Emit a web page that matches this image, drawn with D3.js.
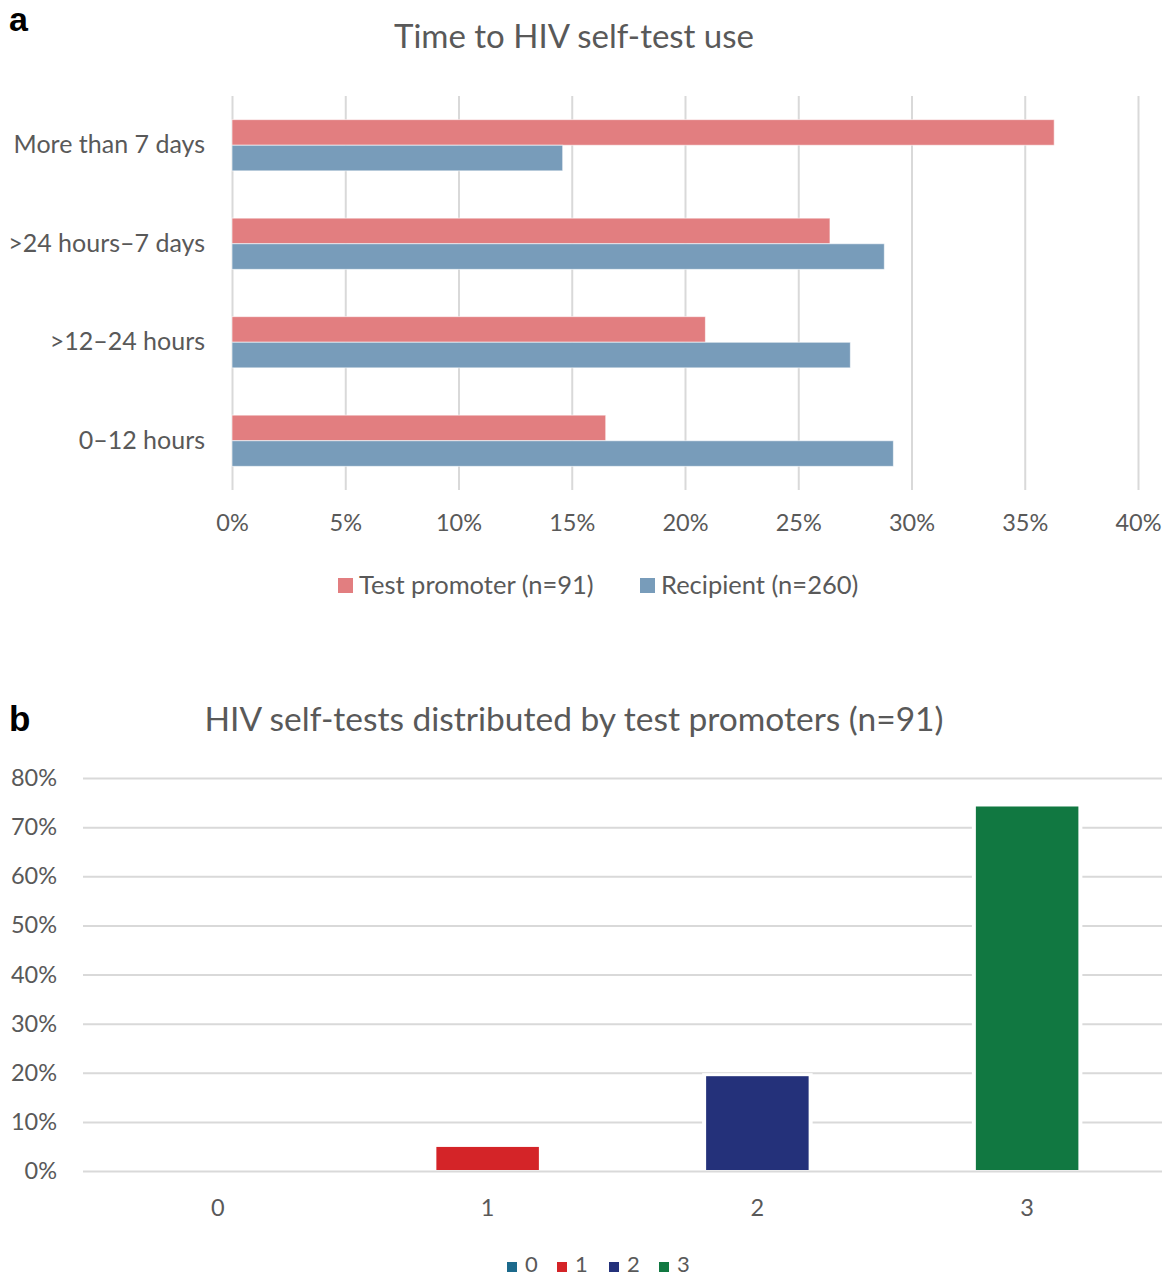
<!DOCTYPE html>
<html>
<head>
<meta charset="utf-8">
<script src="https://cdn.jsdelivr.net/npm/d3@7"></script>
<style>
  html, body { margin: 0; padding: 0; background: #fff; }
  svg { display: block; }
  text { font-family: Lato, "Open Sans", sans-serif; fill: #595959; }
</style>
</head>
<body>
<svg id="chart" width="1164" height="1277"></svg>
<script>
// ---- Panel a data ----
const timeCategories = ["More than 7 days", ">24 hours\u20137 days", ">12\u201324 hours", "0\u201312 hours"];
const timeSeries = ["Test promoter (n=91)", "Recipient (n=260)"];
const promoterValues = [0.363, 0.264, 0.209, 0.165];
const recipientValues = [0.146, 0.288, 0.273, 0.292];
const timeTicks = [0, 0.05, 0.10, 0.15, 0.20, 0.25, 0.30, 0.35, 0.40];
const timeColors = ["#E27E80", "#789CBA"];

// ---- Panel b data ----
const distCategories = ["0", "1", "2", "3"];
const distValues = [0, 0.049, 0.193, 0.742];
const distTicks = [0, 0.1, 0.2, 0.3, 0.4, 0.5, 0.6, 0.7, 0.8];
const distColors = ["#1C6A8C", "#D42428", "#24317A", "#117841"];

const svg = d3.select("#chart");
const pct = d3.format(".0%");

// ================= Panel a =================
const gA = svg.append("g");
gA.append("text").text("a").attr("x", 9).attr("y", 31)
  .style("font-family", "Liberation Sans, Arial, sans-serif")
  .style("font-weight", "bold").style("font-size", "34px").style("fill", "#000");
gA.append("text").text("Time to HIV self-test use")
  .attr("x", 574).attr("y", 48).attr("text-anchor", "middle")
  .style("font-size", "33px");

const xA = d3.scaleLinear().domain([0, 0.4]).range([232, 1138]);
const yA = d3.scaleBand().domain(timeCategories).range([96, 490]).paddingInner(0.48).paddingOuter(0.24);
const ySub = d3.scaleBand().domain(timeSeries).range([0, yA.bandwidth()]);

// gridlines via axis
const gridA = gA.append("g").attr("transform", "translate(0,490)")
  .call(d3.axisBottom(xA).tickValues(timeTicks).tickSize(-(490 - 96)).tickFormat(pct).tickPadding(24));
gridA.select(".domain").remove();
gridA.selectAll(".tick line").attr("stroke", "#d9d9d9").attr("stroke-width", 2);
gridA.selectAll(".tick text").style("font-size", "23.5px").style("fill", "#595959")
  .style("font-family", "Lato, sans-serif");

const dataA = timeCategories.map((c, i) => ({ cat: c, vals: [promoterValues[i], recipientValues[i]] }));
const groups = gA.append("g").selectAll("g").data(dataA).join("g")
  .attr("transform", d => `translate(0,${yA(d.cat)})`);
groups.selectAll("rect").data(d => d.vals.map((v, j) => ({ v, s: timeSeries[j], j })))
  .join("rect")
  .attr("x", xA(0)).attr("y", d => ySub(d.s))
  .attr("width", d => xA(d.v) - xA(0)).attr("height", ySub.bandwidth())
  .attr("fill", d => timeColors[d.j])
  .attr("stroke", "#ffffff").attr("stroke-opacity", 0.6).attr("stroke-width", 1);

// category labels
const axA = gA.append("g").attr("transform", "translate(232,0)")
  .call(d3.axisLeft(yA).tickSize(0).tickPadding(27));
axA.select(".domain").remove();
axA.selectAll(".tick text").style("font-size", "25px").style("fill", "#595959")
  .style("font-family", "Lato, sans-serif");

// legend a
const legA = gA.append("g");
const legAx = [338, 640];
timeSeries.forEach((s, i) => {
  legA.append("rect").attr("x", legAx[i]).attr("y", 578).attr("width", 15).attr("height", 15).attr("fill", timeColors[i]);
  legA.append("text").text(s).attr("x", legAx[i] + 21).attr("y", 594).style("font-size", "25.5px");
});

// ================= Panel b =================
const gB = svg.append("g");
gB.append("text").text("b").attr("x", 9).attr("y", 731)
  .style("font-family", "Liberation Sans, Arial, sans-serif")
  .style("font-weight", "bold").style("font-size", "35px").style("fill", "#000");
gB.append("text").text("HIV self-tests distributed by test promoters (n=91)")
  .attr("x", 574).attr("y", 731).attr("text-anchor", "middle")
  .style("font-size", "33.5px");

const xB = d3.scaleBand().domain(distCategories).range([83, 1162]).paddingInner(0.62).paddingOuter(0.31);
const yB = d3.scaleLinear().domain([0, 0.8]).range([1171, 778]);

const gridB = gB.append("g").attr("transform", "translate(83,0)")
  .call(d3.axisLeft(yB).tickValues(distTicks).tickSize(-(1162 - 83)).tickFormat(pct).tickPadding(26));
gridB.select(".domain").remove();
gridB.selectAll(".tick line").attr("stroke", "#d9d9d9").attr("stroke-width", 2);
gridB.selectAll(".tick text").style("font-size", "23.5px").style("fill", "#595959")
  .style("font-family", "Lato, sans-serif");

const dataB = distCategories.map((c, i) => ({ c, v: distValues[i], col: distColors[i] }));
// white halo behind bars
gB.append("g").selectAll("rect").data(dataB.filter(d => d.v > 0)).join("rect")
  .attr("x", d => xB(d.c) - 4).attr("y", d => yB(d.v) - 3)
  .attr("width", xB.bandwidth() + 8).attr("height", d => yB(0) - yB(d.v) + 1)
  .attr("fill", "#fff");
gB.append("g").selectAll("rect").data(dataB).join("rect")
  .attr("x", d => xB(d.c)).attr("y", d => yB(d.v))
  .attr("width", xB.bandwidth()).attr("height", d => Math.max(0, yB(0) - yB(d.v) - 1))
  .attr("fill", d => d.col);

const axB = gB.append("g").attr("transform", "translate(0,1171)")
  .call(d3.axisBottom(xB).tickSize(0).tickPadding(28));
axB.select(".domain").remove();
axB.selectAll(".tick text").style("font-size", "23.5px").style("fill", "#595959")
  .style("font-family", "Lato, sans-serif");

// legend b
const legB = gB.append("g");
const legBx = [507, 557, 609, 659];
distCategories.forEach((c, i) => {
  legB.append("rect").attr("x", legBx[i]).attr("y", 1262).attr("width", 10).attr("height", 10).attr("fill", distColors[i]);
  legB.append("text").text(c).attr("x", legBx[i] + 18).attr("y", 1272).style("font-size", "22px");
});
</script>
</body>
</html>
